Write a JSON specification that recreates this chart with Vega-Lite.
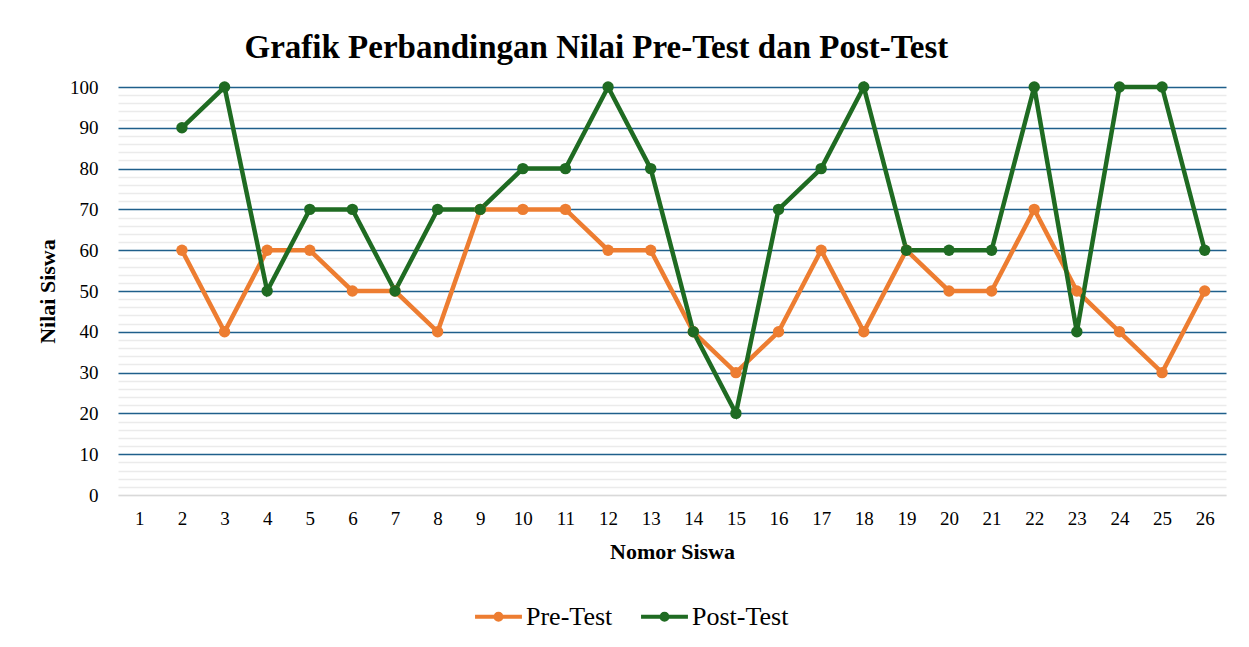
{
  "$schema": "https://vega.github.io/schema/vega-lite/v6.json",
  "width": 1108,
  "height": 408,
  "autosize": {"type": "none"},
  "padding": {"left": 118, "top": 87, "right": 23, "bottom": 152},
  "background": "white",
  "title": {
    "text": "Grafik Perbandingan Nilai Pre-Test dan Post-Test",
    "font": "Liberation Serif",
    "fontSize": 33,
    "fontWeight": "bold",
    "color": "#000000",
    "anchor": "start",
    "offset": 13,
    "dx": 208
  },
  "data": {
    "values": [
      {"Nomor": 2, "Seri": "Pre-Test", "Nilai": 60},
      {"Nomor": 3, "Seri": "Pre-Test", "Nilai": 40},
      {"Nomor": 4, "Seri": "Pre-Test", "Nilai": 60},
      {"Nomor": 5, "Seri": "Pre-Test", "Nilai": 60},
      {"Nomor": 6, "Seri": "Pre-Test", "Nilai": 50},
      {"Nomor": 7, "Seri": "Pre-Test", "Nilai": 50},
      {"Nomor": 8, "Seri": "Pre-Test", "Nilai": 40},
      {"Nomor": 9, "Seri": "Pre-Test", "Nilai": 70},
      {"Nomor": 10, "Seri": "Pre-Test", "Nilai": 70},
      {"Nomor": 11, "Seri": "Pre-Test", "Nilai": 70},
      {"Nomor": 12, "Seri": "Pre-Test", "Nilai": 60},
      {"Nomor": 13, "Seri": "Pre-Test", "Nilai": 60},
      {"Nomor": 14, "Seri": "Pre-Test", "Nilai": 40},
      {"Nomor": 15, "Seri": "Pre-Test", "Nilai": 30},
      {"Nomor": 16, "Seri": "Pre-Test", "Nilai": 40},
      {"Nomor": 17, "Seri": "Pre-Test", "Nilai": 60},
      {"Nomor": 18, "Seri": "Pre-Test", "Nilai": 40},
      {"Nomor": 19, "Seri": "Pre-Test", "Nilai": 60},
      {"Nomor": 20, "Seri": "Pre-Test", "Nilai": 50},
      {"Nomor": 21, "Seri": "Pre-Test", "Nilai": 50},
      {"Nomor": 22, "Seri": "Pre-Test", "Nilai": 70},
      {"Nomor": 23, "Seri": "Pre-Test", "Nilai": 50},
      {"Nomor": 24, "Seri": "Pre-Test", "Nilai": 40},
      {"Nomor": 25, "Seri": "Pre-Test", "Nilai": 30},
      {"Nomor": 26, "Seri": "Pre-Test", "Nilai": 50},
      {"Nomor": 2, "Seri": "Post-Test", "Nilai": 90},
      {"Nomor": 3, "Seri": "Post-Test", "Nilai": 100},
      {"Nomor": 4, "Seri": "Post-Test", "Nilai": 50},
      {"Nomor": 5, "Seri": "Post-Test", "Nilai": 70},
      {"Nomor": 6, "Seri": "Post-Test", "Nilai": 70},
      {"Nomor": 7, "Seri": "Post-Test", "Nilai": 50},
      {"Nomor": 8, "Seri": "Post-Test", "Nilai": 70},
      {"Nomor": 9, "Seri": "Post-Test", "Nilai": 70},
      {"Nomor": 10, "Seri": "Post-Test", "Nilai": 80},
      {"Nomor": 11, "Seri": "Post-Test", "Nilai": 80},
      {"Nomor": 12, "Seri": "Post-Test", "Nilai": 100},
      {"Nomor": 13, "Seri": "Post-Test", "Nilai": 80},
      {"Nomor": 14, "Seri": "Post-Test", "Nilai": 40},
      {"Nomor": 15, "Seri": "Post-Test", "Nilai": 20},
      {"Nomor": 16, "Seri": "Post-Test", "Nilai": 70},
      {"Nomor": 17, "Seri": "Post-Test", "Nilai": 80},
      {"Nomor": 18, "Seri": "Post-Test", "Nilai": 100},
      {"Nomor": 19, "Seri": "Post-Test", "Nilai": 60},
      {"Nomor": 20, "Seri": "Post-Test", "Nilai": 60},
      {"Nomor": 21, "Seri": "Post-Test", "Nilai": 60},
      {"Nomor": 22, "Seri": "Post-Test", "Nilai": 100},
      {"Nomor": 23, "Seri": "Post-Test", "Nilai": 40},
      {"Nomor": 24, "Seri": "Post-Test", "Nilai": 100},
      {"Nomor": 25, "Seri": "Post-Test", "Nilai": 100},
      {"Nomor": 26, "Seri": "Post-Test", "Nilai": 60}
    ]
  },
  "encoding": {
    "x": {
      "field": "Nomor",
      "type": "ordinal",
      "scale": {"type": "point", "padding": 0.5, "domain": [1,2,3,4,5,6,7,8,9,10,11,12,13,14,15,16,17,18,19,20,21,22,23,24,25,26]},
      "axis": {
        "title": "Nomor Siswa",
        "labelAngle": 0,
        "labelFont": "Liberation Serif",
        "labelFontSize": 19,
        "labelColor": "#000000",
        "labelPadding": 14,
        "titleFont": "Liberation Serif",
        "titleFontSize": 22,
        "titleFontWeight": "bold",
        "titleColor": "#000000",
        "titlePadding": 13,
        "domain": true,
        "domainColor": "#d9d9d9",
        "domainWidth": 1.5,
        "ticks": false,
        "grid": false
      }
    },
    "y": {
      "field": "Nilai",
      "type": "quantitative",
      "scale": {"domain": [0, 100], "nice": false},
      "axis": {
        "title": "Nilai Siswa",
        "values": [0,2,4,6,8,10,12,14,16,18,20,22,24,26,28,30,32,34,36,38,40,42,44,46,48,50,52,54,56,58,60,62,64,66,68,70,72,74,76,78,80,82,84,86,88,90,92,94,96,98,100],
        "labelExpr": "datum.value % 10 === 0 ? datum.label : ''",
        "labelFont": "Liberation Serif",
        "labelFontSize": 19,
        "labelColor": "#000000",
        "labelPadding": 20,
        "titleFont": "Liberation Serif",
        "titleFontSize": 22,
        "titleFontWeight": "bold",
        "titleColor": "#000000",
        "titlePadding": 10,
        "domain": false,
        "ticks": false,
        "grid": true,
        "gridColor": {"condition": {"test": "datum.value % 10 === 0 && datum.value > 0", "value": "#1f5f8b"}, "value": "#ebebeb"},
        "gridWidth": 1.6
      }
    },
    "color": {
      "field": "Seri",
      "type": "nominal",
      "scale": {"domain": ["Pre-Test", "Post-Test"], "range": ["#ed7d31", "#1f6b22"]},
      "legend": {
        "title": null,
        "orient": "none",
        "legendX": 355,
        "legendY": 504,
        "direction": "horizontal",
        "labelFont": "Liberation Serif",
        "labelFontSize": 26,
        "labelColor": "#000000",
        "symbolType": "M-1,0H1M0.13,0A0.13,0.13 0 1,1 -0.13,0A0.13,0.13 0 1,1 0.13,0",
        "symbolSize": 2200,
        "symbolStrokeWidth": 4,
        "symbolOffset": 0,
        "labelOffset": 2,
        "columnPadding": 20
      }
    }
  },
  "layer": [
    {"mark": {"type": "line", "strokeWidth": 4.5}},
    {"mark": {"type": "point", "filled": true, "size": 130, "opacity": 1}}
  ],
  "config": {
    "view": {"stroke": null},
    "legend": {"symbolFillColor": null}
  }
}
